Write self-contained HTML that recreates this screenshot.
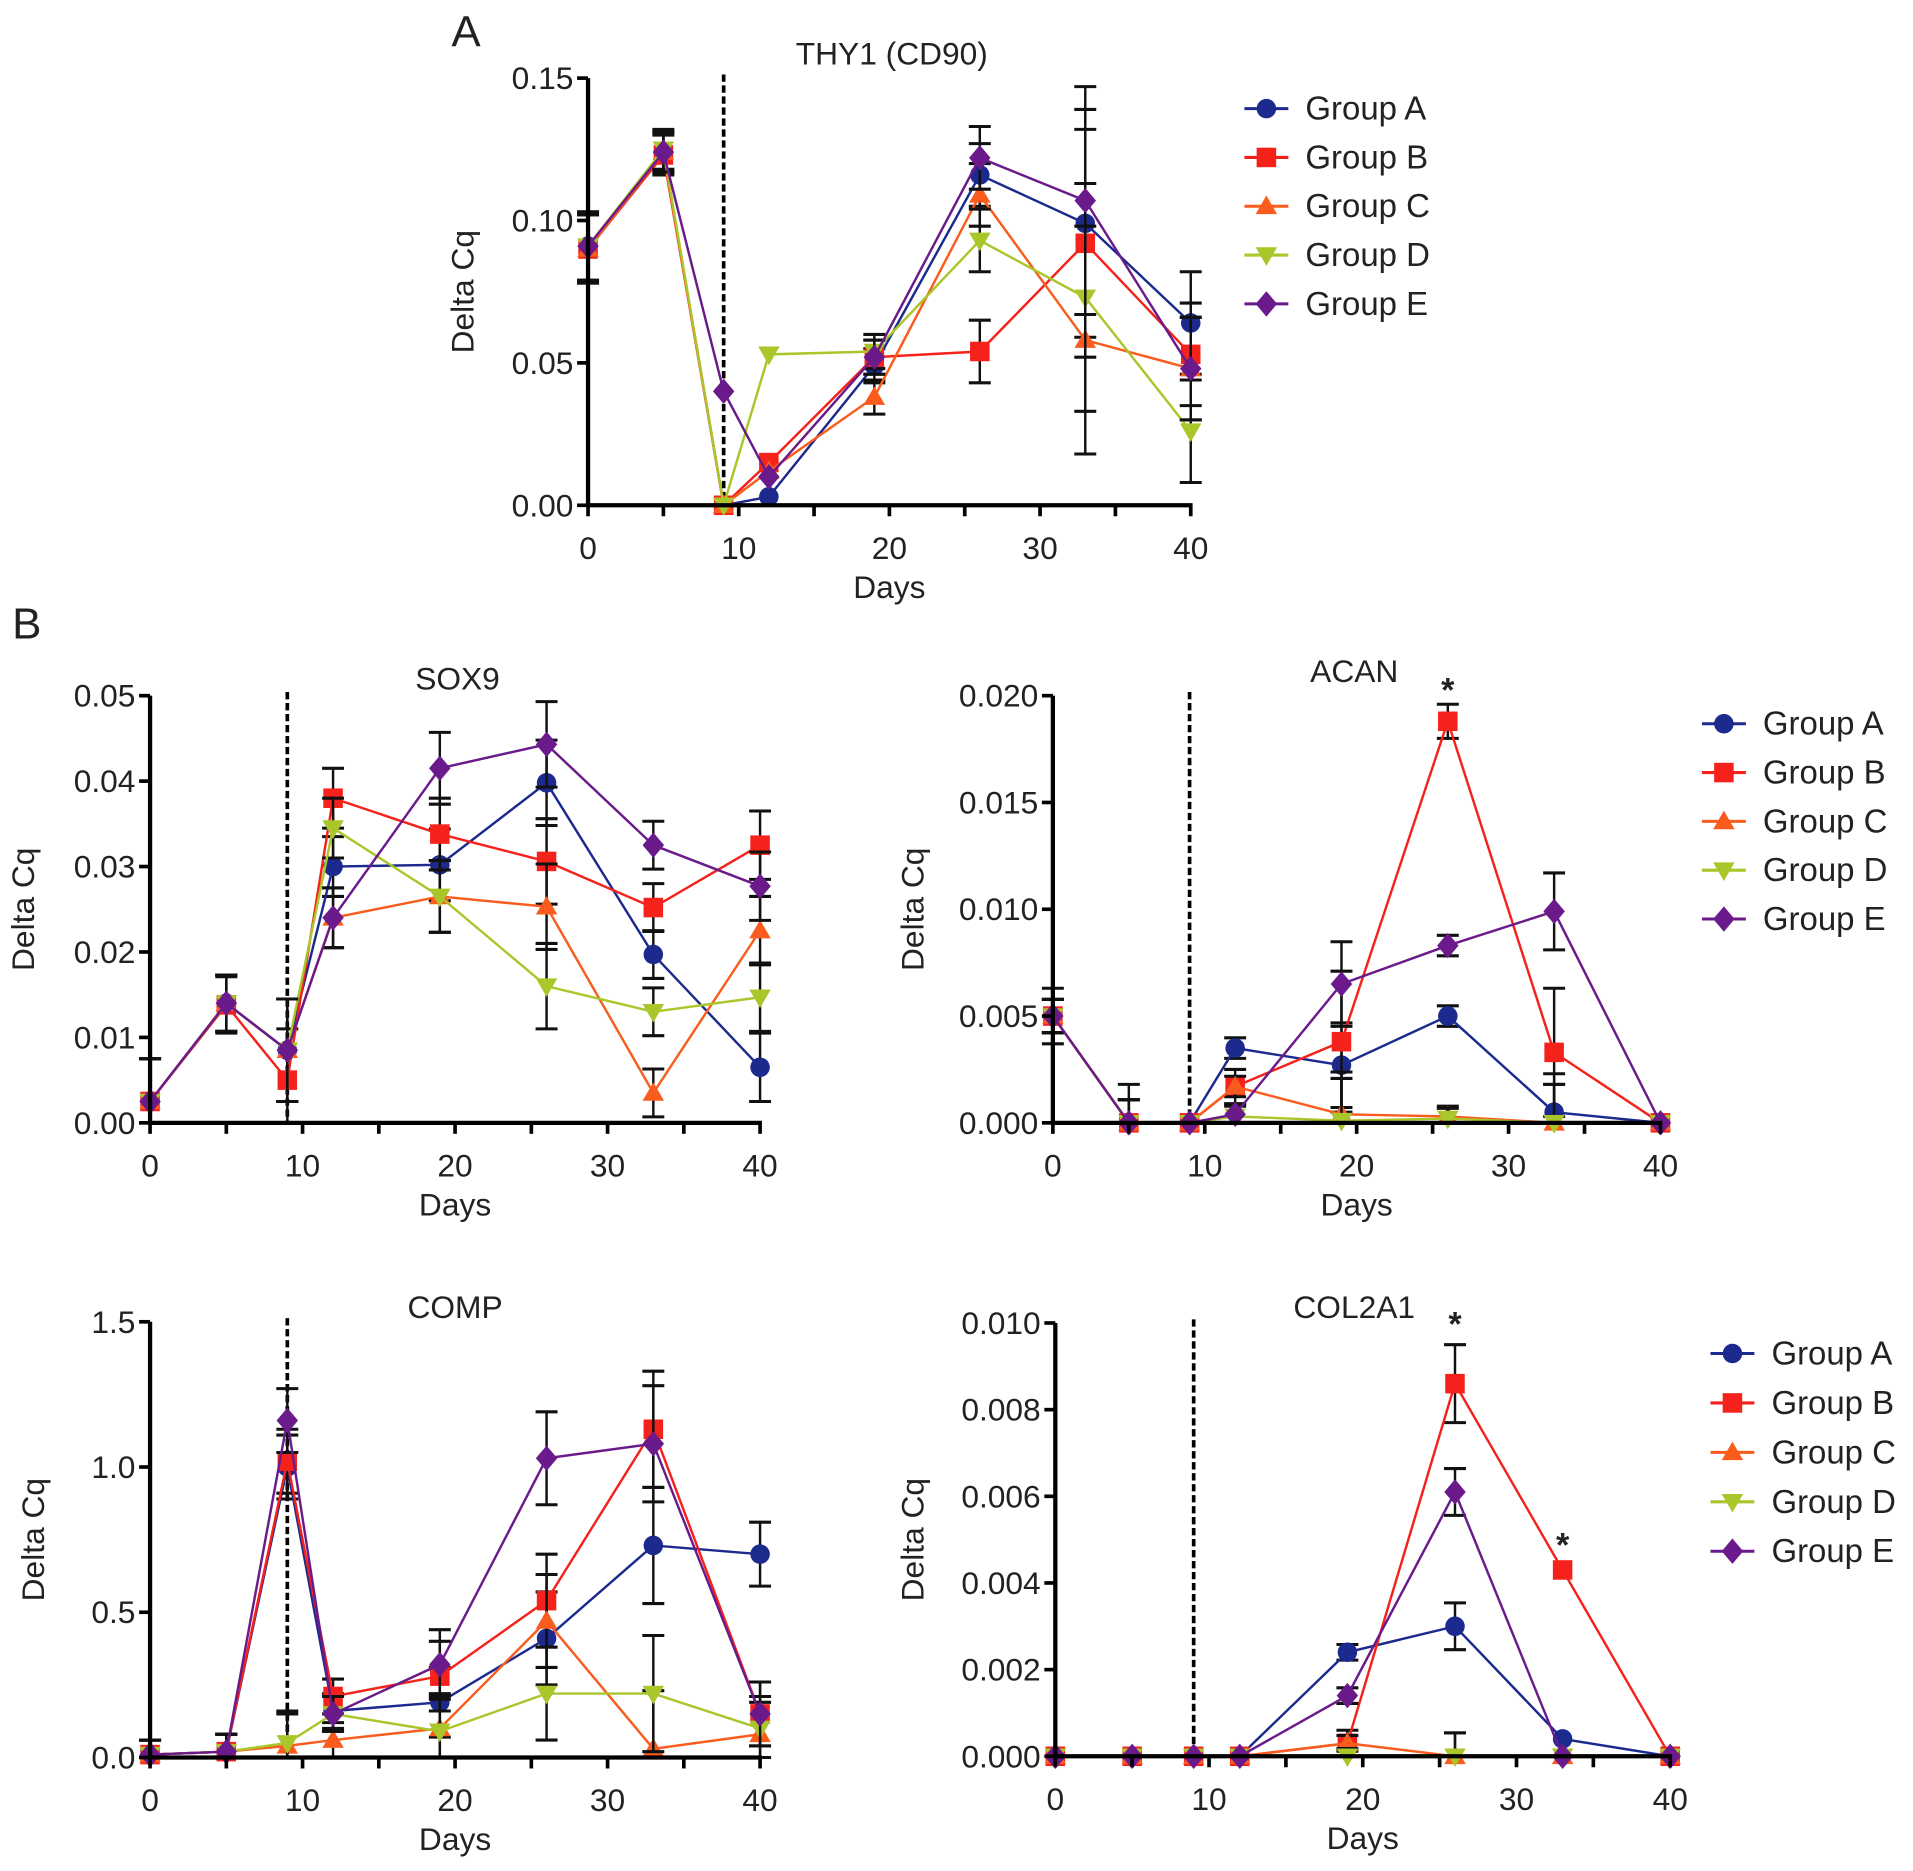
<!DOCTYPE html>
<html><head><meta charset="utf-8"><style>
html,body{margin:0;padding:0;background:#fff}
svg{display:block}
text{font-family:"Liberation Sans",Arial,sans-serif;fill:#222}
</style></head><body>
<svg id="fig" width="1913" height="1871" viewBox="0 0 1568 1533" preserveAspectRatio="none" xmlns="http://www.w3.org/2000/svg">
<text x="370" y="38" font-size="36">A</text>
<text x="10" y="523" font-size="36">B</text>
</svg>
<script>
const days = [0, 5, 9, 12, 19, 26, 33, 40];
const groupNames = ["Group A", "Group B", "Group C", "Group D", "Group E"];
const groupColors = ["#1c2a8e", "#f5221c", "#fa5c1e", "#a9c62a", "#6a1a8a"];
const xTicks = [0, 10, 20, 30, 40];

// THY1
const thyA = [0.091, 0.124, 0, 0.003, 0.049, 0.116, 0.099, 0.064];
const thyB = [0.090, 0.123, 0, 0.015, 0.052, 0.054, 0.092, 0.053];
const thyC = [0.090, 0.124, 0, 0.012, 0.038, 0.109, 0.058, 0.048];
const thyD = [0.091, 0.125, 0, 0.053, 0.054, 0.093, 0.073, 0.026];
const thyE = [0.091, 0.124, 0.040, 0.010, 0.052, 0.122, 0.107, 0.048];
const thyErr = [0.012, 0.007, 0, 0, 0.006, 0.011, 0.04, 0.018];
const thyTicks = [0, 0.05, 0.10, 0.15];
const thyTickLabels = ["0.00", "0.05", "0.10", "0.15"];

// SOX9
const soxA = [0.0025, 0.014, 0.0085, 0.030, 0.0302, 0.0398, 0.0197, 0.0065];
const soxB = [0.0025, 0.0138, 0.005, 0.038, 0.0338, 0.0306, 0.0252, 0.0325];
const soxC = [0.0025, 0.014, 0.0085, 0.024, 0.0265, 0.0253, 0.0035, 0.0225];
const soxD = [0.0025, 0.014, 0.0085, 0.0345, 0.0265, 0.016, 0.013, 0.0147];
const soxE = [0.0025, 0.014, 0.0085, 0.024, 0.0415, 0.0443, 0.0325, 0.0277];
const soxErr = [0.005, 0.0033, 0.006, 0.0035, 0.0042, 0.005, 0.0028, 0.004];
const soxTicks = [0, 0.01, 0.02, 0.03, 0.04, 0.05];
const soxTickLabels = ["0.00", "0.01", "0.02", "0.03", "0.04", "0.05"];

// ACAN
const acanA = [0.005, 0, 0, 0.0035, 0.0027, 0.005, 0.0005, 0];
const acanB = [0.005, 0, 0, 0.0017, 0.0038, 0.0188, 0.0033, 0];
const acanC = [0.005, 0, 0, 0.0017, 0.0004, 0.0003, 0, 0];
const acanD = [0.005, 0, 0, 0.0003, 0.0001, 0.0002, 0, 0];
const acanE = [0.005, 0, 0, 0.0004, 0.0065, 0.0083, 0.0099, 0];
const acanErr = [0.0013, 0.0018, 0, 0.0008, 0.0033, 0.0008, 0.003, 0];
const acanTicks = [0, 0.005, 0.010, 0.015, 0.020];
const acanTickLabels = ["0.000", "0.005", "0.010", "0.015", "0.020"];

// COMP
const compA = [0.01, 0.02, 1.00, 0.16, 0.19, 0.41, 0.73, 0.70];
const compB = [0.01, 0.02, 1.02, 0.21, 0.28, 0.54, 1.13, 0.15];
const compC = [0.01, 0.02, 0.04, 0.06, 0.10, 0.47, 0.03, 0.08];
const compD = [0.01, 0.02, 0.05, 0.15, 0.09, 0.22, 0.22, 0.10];
const compE = [0.01, 0.02, 1.16, 0.15, 0.32, 1.03, 1.08, 0.15];
const compErr = [0.05, 0.06, 0.11, 0.06, 0.12, 0.16, 0.2, 0.11];
const compTicks = [0, 0.5, 1.0, 1.5];
const compTickLabels = ["0.0", "0.5", "1.0", "1.5"];

// COL2A1
const colA = [0, 0, 0, 0, 0.0024, 0.0030, 0.0004, 0];
const colB = [0, 0, 0, 0, 0.0003, 0.0086, 0.0043, 0];
const colC = [0, 0, 0, 0, 0.0003, 0, 0, 0];
const colD = [0, 0, 0, 0, 0, 0, 0, 0];
const colE = [0, 0, 0, 0, 0.0014, 0.0061, 0, 0];
const colErr = [0, 0, 0, 0, 0.0003, 0.0009, 0, 0];
const colTicks = [0, 0.002, 0.004, 0.006, 0.008, 0.010];
const colTickLabels = ["0.000", "0.002", "0.004", "0.006", "0.008", "0.010"];

const NS = "http://www.w3.org/2000/svg";
const svg = document.getElementById("fig");
function mk(tag, attrs, parent, txt) {
  const e = document.createElementNS(NS, tag);
  for (const k in attrs) e.setAttribute(k, attrs[k]);
  if (txt !== undefined) e.textContent = txt;
  (parent || svg).appendChild(e);
  return e;
}
function marker(g, i, cx, cy, r) {
  const c = groupColors[i];
  let m;
  if (i === 0) m = mk("circle", {cx, cy, r, fill: c}, g);
  else if (i === 1) m = mk("rect", {x: cx - r, y: cy - r, width: 2 * r, height: 2 * r, fill: c}, g);
  else if (i === 2) m = mk("polygon", {points: `${cx},${cy - r * 1.1} ${cx - r * 1.1},${cy + r * 0.8} ${cx + r * 1.1},${cy + r * 0.8}`, fill: c}, g);
  else if (i === 3) m = mk("polygon", {points: `${cx},${cy + r * 1.1} ${cx - r * 1.1},${cy - r * 0.8} ${cx + r * 1.1},${cy - r * 0.8}`, fill: c}, g);
  else m = mk("polygon", {points: `${cx},${cy - r * 1.3} ${cx - r * 1.1},${cy} ${cx},${cy + r * 1.3} ${cx + r * 1.1},${cy}`, fill: c}, g);
  return m;
}

function panel(p) {
  const g = mk("g", {});
  
  
  const ymax = p.ticks[p.ticks.length - 1];
  const X = d => p.x0 + (d / 40) * (p.x1 - p.x0);
  const Y = v => p.y0 - (v / ymax) * (p.y0 - p.y1);
  const dl = mk("line", {x1: X(9), x2: X(9), y1: p.y1 - 3, y2: p.y0, stroke: "#000", "stroke-width": 3, "stroke-dasharray": "6,3"}, g);
  
  
  p.series.forEach((vals, i) => {
    const sg = mk("g", {}, g);
    
    
    vals.forEach((v, k) => {
      const e = p.err[k] * (i === p.errGroup || p.allErr ? 1 : 0.6);
      if (e <= 0) return;
      const x = X(days[k]);
      mk("line", {x1: x, x2: x, y1: Y(v + e), y2: Y(Math.max(0, v - e)), stroke: "#111", "stroke-width": 2}, sg);
      mk("line", {x1: x - 9, x2: x + 9, y1: Y(v + e), y2: Y(v + e), stroke: "#111", "stroke-width": 2.5}, sg);
      mk("line", {x1: x - 9, x2: x + 9, y1: Y(Math.max(0, v - e)), y2: Y(Math.max(0, v - e)), stroke: "#111", "stroke-width": 2.5}, sg);
    });
    const pts = vals.map((v, k) => X(days[k]) + "," + Y(v)).join(" ");
    mk("polyline", {points: pts, fill: "none", stroke: groupColors[i], "stroke-width": 2}, sg);
    vals.forEach((v, k) => {
      const m = marker(sg, i, X(days[k]), Y(v), 8);
      
      
    });
  });
  const ax = mk("g", {}, g);
  
  
  mk("line", {x1: p.x0, x2: p.x0, y1: p.y1, y2: p.y0 + 1.5, stroke: "#000", "stroke-width": 3.5}, ax);
  mk("line", {x1: p.x0 - 1.5, x2: p.x1 + 1.5, y1: p.y0, y2: p.y0, stroke: "#000", "stroke-width": 3.5}, ax);
  p.ticks.forEach((t, k) => {
    mk("line", {x1: p.x0 - 9, x2: p.x0, y1: Y(t), y2: Y(t), stroke: "#000", "stroke-width": 3}, ax);
    const tl = mk("text", {x: p.x0 - 12, y: Y(t) + 9, "font-size": 26, "text-anchor": "end"}, ax, p.tickLabels[k]);
    
    
  });
  for (let d = 0; d <= 40; d += 5) {
    mk("line", {x1: X(d), x2: X(d), y1: p.y0, y2: p.y0 + 9, stroke: "#000", "stroke-width": 3}, ax);
  }
  xTicks.forEach(d => {
    const tl = mk("text", {x: X(d), y: p.y0 + 44, "font-size": 26, "text-anchor": "middle"}, ax, String(d));
    
    
  });
  const xt = mk("text", {x: (p.x0 + p.x1) / 2, y: p.y0 + 76, "font-size": 26, "text-anchor": "middle"}, g, "Days");
  
  
  const yt = mk("text", {x: 0, y: 0, "font-size": 26, "text-anchor": "middle", transform: `translate(${p.ylx},${(p.y0 + p.y1) / 2}) rotate(-90)`}, g, "Delta Cq");
  
  
  const tt = mk("text", {x: p.tx, y: p.ty, "font-size": 26, "text-anchor": "middle"}, g, p.title);
  
  
  (p.stars || []).forEach(s => {
    const st = mk("text", {x: X(s[0]), y: Y(s[1]) - 4, "font-size": 28, "text-anchor": "middle", "font-weight": "bold"}, g, "*");
    
    
  });
  if (p.legend) {
    const lg = mk("g", {}, g);
    
    
    groupNames.forEach((n, i) => {
      const y = p.legend.y + i * p.legend.dy;
      const e = mk("g", {}, lg);
      
      
      mk("line", {x1: p.legend.x - 18, x2: p.legend.x + 18, y1: y, y2: y, stroke: groupColors[i], "stroke-width": 2.5}, e);
      marker(e, i, p.legend.x, y, 8);
      mk("text", {x: p.legend.x + 32, y: y + 9, "font-size": 27}, e, n);
    });
  }
}

panel({name: "thy1", title: "THY1 (CD90)", tx: 731, ty: 53, x0: 482, x1: 976, y0: 414, y1: 64, ylx: 388,
  ticks: thyTicks, tickLabels: thyTickLabels, series: [thyA, thyB, thyC, thyD, thyE], err: thyErr, allErr: true,
  legend: {x: 1038, y: 89, dy: 40}});
panel({name: "sox9", title: "SOX9", tx: 375, ty: 565, x0: 123, x1: 623, y0: 920, y1: 570, ylx: 28,
  ticks: soxTicks, tickLabels: soxTickLabels, series: [soxA, soxB, soxC, soxD, soxE], err: soxErr, allErr: true});
panel({name: "acan", title: "ACAN", tx: 1110, ty: 559, x0: 863, x1: 1361, y0: 920, y1: 570, ylx: 757,
  ticks: acanTicks, tickLabels: acanTickLabels, series: [acanA, acanB, acanC, acanD, acanE], err: acanErr, errGroup: 1,
  stars: [[26, 0.0195]], legend: {x: 1413, y: 593, dy: 40}});
panel({name: "comp", title: "COMP", tx: 373, ty: 1080, x0: 123, x1: 623, y0: 1440, y1: 1083, ylx: 36,
  ticks: compTicks, tickLabels: compTickLabels, series: [compA, compB, compC, compD, compE], err: compErr, allErr: true});
panel({name: "col2a1", title: "COL2A1", tx: 1110, ty: 1080, x0: 865, x1: 1369, y0: 1439, y1: 1084, ylx: 757,
  ticks: colTicks, tickLabels: colTickLabels, series: [colA, colB, colC, colD, colE], err: colErr, errGroup: 1,
  stars: [[26, 0.0096], [33, 0.0045]], legend: {x: 1420, y: 1109, dy: 40.5}});
</script>
</body></html>
